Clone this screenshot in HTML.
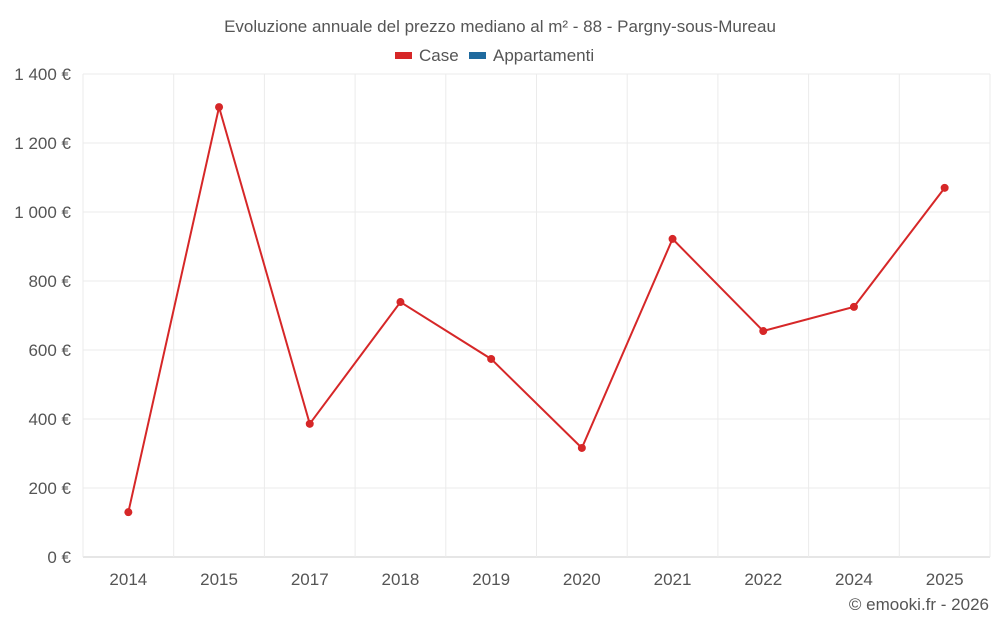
<!DOCTYPE html>
<html><head><meta charset="utf-8">
<style>
body{margin:0;background:#fff;font-family:"Liberation Sans",sans-serif;}
svg text{font-family:"Liberation Sans",sans-serif;fill:#555;}
</style></head>
<body>
<svg id="chart" width="1000" height="625" viewBox="0 0 1000 625" xmlns="http://www.w3.org/2000/svg">
<rect width="1000" height="625" fill="#fff"/>
<text x="500" y="32" text-anchor="middle" font-size="17">Evoluzione annuale del prezzo mediano al m² - 88 - Pargny-sous-Mureau</text>
<g>
<g><rect x="395" y="52" width="17" height="7" fill="#d62728"/><text x="419" y="61" font-size="17">Case</text></g>
<g><rect x="469" y="52" width="17" height="7" fill="#1f6a9e"/><text x="493" y="61" font-size="17">Appartamenti</text></g>
</g>
<g id="grid"></g>
<g id="yaxis"></g>
<g id="xaxis"></g>
<g id="series"></g>
<text x="989" y="610" text-anchor="end" font-size="17">© emooki.fr - 2026</text>
</svg>
<script>
const categories=["2014","2015","2017","2018","2019","2020","2021","2022","2024","2025"];
const caseValues=[130,1304,386,739,574,316,922,655,725,1070];
const yTicks=[0,200,400,600,800,1000,1200,1400];
const yTickLabels=["0 €","200 €","400 €","600 €","800 €","1 000 €","1 200 €","1 400 €"];
const NS="http://www.w3.org/2000/svg";
const L=83,R=990,T=74,B=557,YMAX=1400;
const band=(R-L)/categories.length;
const xs=i=>L+band*(i+0.5);
const ys=v=>B-(v/YMAX)*(B-T);
function mk(tag,attrs,parent){const e=document.createElementNS(NS,tag);for(const k in attrs)e.setAttribute(k,attrs[k]);parent.appendChild(e);return e;}
const grid=document.getElementById('grid'),ya=document.getElementById('yaxis'),xa=document.getElementById('xaxis'),se=document.getElementById('series');
yTicks.forEach((v,i)=>{
 const l=mk('line',{x1:L,x2:R,y1:ys(v),y2:ys(v),stroke:v===0?'#ccc':'#ebebeb','stroke-width':1},grid);
 
 
 const t=mk('text',{x:71,y:ys(v)+6,'text-anchor':'end','font-size':17},ya);
 t.textContent=yTickLabels[i];
 
 
});
for(let i=0;i<=categories.length;i++){
 const l=mk('line',{x1:L+band*i,x2:L+band*i,y1:T,y2:B,stroke:'#ebebeb','stroke-width':1},grid);
 
 
}
categories.forEach((c,i)=>{
 const t=mk('text',{x:xs(i),y:585,'text-anchor':'middle','font-size':17},xa);
 t.textContent=c;
 
 
});
const p=mk('polyline',{points:caseValues.map((v,i)=>xs(i)+','+ys(v)).join(' '),fill:'none',stroke:'#d62728','stroke-width':2},se);


caseValues.forEach((v,i)=>{
 const c=mk('circle',{cx:xs(i),cy:ys(v),r:4,fill:'#d62728'},se);
 
 
});
</script>
</body></html>
